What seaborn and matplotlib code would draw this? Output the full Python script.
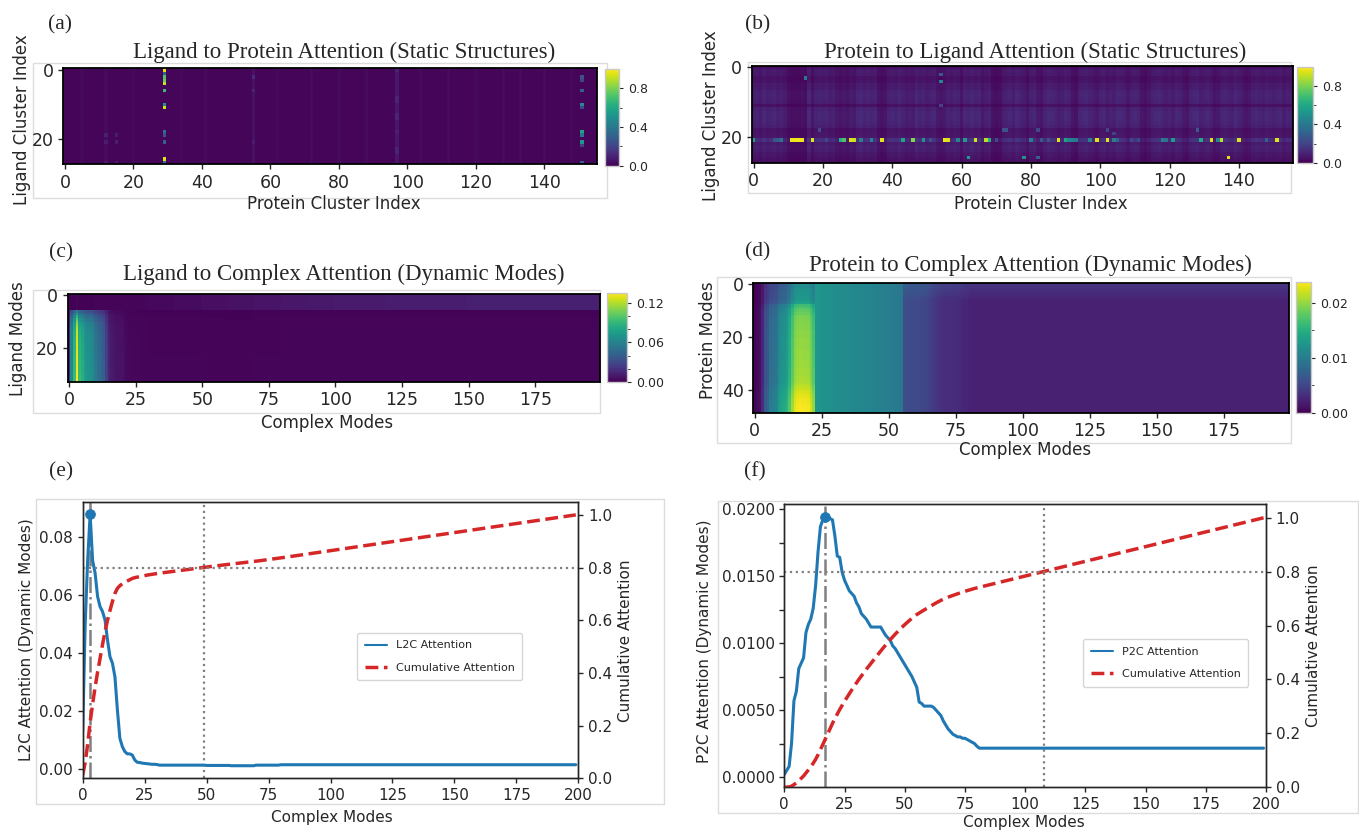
import numpy as np
import matplotlib
matplotlib.use("Agg")
import matplotlib.pyplot as plt
from matplotlib.patches import Rectangle
from matplotlib.ticker import MultipleLocator, FormatStrFormatter
import seaborn as sns

# ---------------------------------------------------------------- data
# mean attention per complex mode (e) and (f)
l2c_attention = [
    0.0130, 0.0500, 0.0720, 0.0880, 0.0720, 0.0677, 0.0596, 0.0561, 0.0544, 0.0515,
    0.0446, 0.0388, 0.0365, 0.0319, 0.0204, 0.0106, 0.0077, 0.0060, 0.0052, 0.0052,
    0.0048, 0.0031, 0.0023, 0.0022, 0.0020, 0.0019, 0.0018, 0.0017, 0.0016, 0.0016,
    0.0015, 0.0013, 0.0013, 0.0013, 0.0013, 0.0013, 0.0013, 0.0013, 0.0013, 0.0013,
    0.0013, 0.0013, 0.0013, 0.0013, 0.0013, 0.0013, 0.0013, 0.0013, 0.0013, 0.0013,
    0.0012, 0.0012, 0.0012, 0.0012, 0.0012, 0.0012, 0.0012, 0.0012, 0.0012, 0.0012,
    0.0011, 0.0011, 0.0011, 0.0011, 0.0011, 0.0011, 0.0011, 0.0011, 0.0011, 0.0011,
    0.0013, 0.0013, 0.0013, 0.0013, 0.0013, 0.0013, 0.0013, 0.0013, 0.0013, 0.0013,
    0.00144, 0.00144, 0.00144, 0.00144, 0.00144, 0.00144, 0.00144, 0.00144, 0.00144, 0.00144,
    0.00144, 0.00144, 0.00144, 0.00144, 0.00144, 0.00144, 0.00144, 0.00144, 0.00144, 0.00144,
    0.00144, 0.00144, 0.00144, 0.00144, 0.00144, 0.00144, 0.00144, 0.00144, 0.00144, 0.00144,
    0.00144, 0.00144, 0.00144, 0.00144, 0.00144, 0.00144, 0.00144, 0.00144, 0.00144, 0.00144,
    0.00144, 0.00144, 0.00144, 0.00144, 0.00144, 0.00144, 0.00144, 0.00144, 0.00144, 0.00144,
    0.00144, 0.00144, 0.00144, 0.00144, 0.00144, 0.00144, 0.00144, 0.00144, 0.00144, 0.00144,
    0.00144, 0.00144, 0.00144, 0.00144, 0.00144, 0.00144, 0.00144, 0.00144, 0.00144, 0.00144,
    0.00144, 0.00144, 0.00144, 0.00144, 0.00144, 0.00144, 0.00144, 0.00144, 0.00144, 0.00144,
    0.00144, 0.00144, 0.00144, 0.00144, 0.00144, 0.00144, 0.00144, 0.00144, 0.00144, 0.00144,
    0.00144, 0.00144, 0.00144, 0.00144, 0.00144, 0.00144, 0.00144, 0.00144, 0.00144, 0.00144,
    0.00144, 0.00144, 0.00144, 0.00144, 0.00144, 0.00144, 0.00144, 0.00144, 0.00144, 0.00144,
    0.00144, 0.00144, 0.00144, 0.00144, 0.00144, 0.00144, 0.00144, 0.00144, 0.00144, 0.00144,
]

p2c_attention = [
    0.0002, 0.0005, 0.0008, 0.0025, 0.0057, 0.0064, 0.0081, 0.0085, 0.0089, 0.0108,
    0.0114, 0.0118, 0.0126, 0.0143, 0.0168, 0.0187, 0.0192, 0.0194, 0.0193, 0.0193,
    0.0192, 0.0180, 0.0165, 0.0164, 0.0153, 0.0147, 0.0143, 0.0139, 0.0137, 0.0135,
    0.0130, 0.0127, 0.0122, 0.0120, 0.0118, 0.0115, 0.0112, 0.0112, 0.0112, 0.0112,
    0.0112, 0.0109, 0.0106, 0.0104, 0.0102, 0.0098, 0.0096, 0.0093, 0.0090, 0.0087,
    0.0084, 0.0081, 0.0078, 0.0075, 0.0071, 0.0067, 0.0056, 0.0055, 0.0053, 0.0053,
    0.0053, 0.0053, 0.0052, 0.0050, 0.0048, 0.0046, 0.0042, 0.0039, 0.0036, 0.0034,
    0.0032, 0.0031, 0.0030, 0.0030, 0.0029, 0.0029, 0.0028, 0.0027, 0.0026, 0.0025,
    0.0023, 0.00216, 0.00216, 0.00216, 0.00216, 0.00216, 0.00216, 0.00216, 0.00216, 0.00216,
    0.00216, 0.00216, 0.00216, 0.00216, 0.00216, 0.00216, 0.00216, 0.00216, 0.00216, 0.00216,
    0.00216, 0.00216, 0.00216, 0.00216, 0.00216, 0.00216, 0.00216, 0.00216, 0.00216, 0.00216,
    0.00216, 0.00216, 0.00216, 0.00216, 0.00216, 0.00216, 0.00216, 0.00216, 0.00216, 0.00216,
    0.00216, 0.00216, 0.00216, 0.00216, 0.00216, 0.00216, 0.00216, 0.00216, 0.00216, 0.00216,
    0.00216, 0.00216, 0.00216, 0.00216, 0.00216, 0.00216, 0.00216, 0.00216, 0.00216, 0.00216,
    0.00216, 0.00216, 0.00216, 0.00216, 0.00216, 0.00216, 0.00216, 0.00216, 0.00216, 0.00216,
    0.00216, 0.00216, 0.00216, 0.00216, 0.00216, 0.00216, 0.00216, 0.00216, 0.00216, 0.00216,
    0.00216, 0.00216, 0.00216, 0.00216, 0.00216, 0.00216, 0.00216, 0.00216, 0.00216, 0.00216,
    0.00216, 0.00216, 0.00216, 0.00216, 0.00216, 0.00216, 0.00216, 0.00216, 0.00216, 0.00216,
    0.00216, 0.00216, 0.00216, 0.00216, 0.00216, 0.00216, 0.00216, 0.00216, 0.00216, 0.00216,
    0.00216, 0.00216, 0.00216, 0.00216, 0.00216, 0.00216, 0.00216, 0.00216, 0.00216, 0.00216,
]

# (a) ligand -> protein attention, 28 ligand x 156 protein clusters
lp_shape = (28, 156)
lp_background = 0.015
lp_faint_cols = [(5, 0.025), (12, 0.03), (20, 0.025), (34, 0.025), (41, 0.028),
                 (55, 0.045), (62, 0.025), (72, 0.028), (80, 0.025), (88, 0.028),
                 (97, 0.06), (104, 0.025), (112, 0.028), (120, 0.025), (128, 0.03),
                 (133, 0.028), (140, 0.03), (148, 0.025)]
lp_hot_cells = [
    (0, 29, 0.95), (1, 29, 0.30), (2, 29, 0.72), (3, 29, 0.76), (4, 29, 0.92),
    (6, 29, 0.68), (10, 29, 0.50), (11, 29, 0.93), (18, 29, 0.35), (19, 29, 0.25),
    (21, 29, 0.30), (26, 29, 0.95), (27, 29, 0.35),
    (2, 151, 0.25), (3, 151, 0.20), (6, 151, 0.30), (10, 151, 0.48), (11, 151, 0.22),
    (18, 151, 0.58), (19, 151, 0.40), (21, 151, 0.52), (22, 151, 0.18), (27, 151, 0.30),
    (19, 12, 0.09), (21, 12, 0.08), (19, 15, 0.08), (21, 15, 0.08), (27, 12, 0.07),
    (27, 15, 0.07), (2, 55, 0.12), (6, 55, 0.10), (21, 55, 0.08), (0, 97, 0.10),
    (8, 97, 0.10), (9, 97, 0.10), (13, 97, 0.10), (14, 97, 0.10), (18, 97, 0.09),
    (23, 97, 0.10), (24, 97, 0.10),
]

# (b) protein -> ligand attention: row/column background levels plus hot cells
pl_row_level = [0.04, 0.07, 0.065, 0.045, 0.05, 0.07, 0.07, 0.09, 0.095, 0.09,
                0.085, 0.04, 0.09, 0.10, 0.10, 0.10, 0.095, 0.085, 0.05, 0.055,
                0.06, 0.13, 0.07, 0.085, 0.08, 0.06, 0.05, 0.04]
pl_col_level = [
    0.9, 1.0, 0.8, 1.1, 0.9, 1.0, 1.1, 0.9, 1.0, 0.8,
    0.5, 0.4, 0.4, 0.4, 0.5, 0.4, 1.2, 0.6, 1.0, 1.1,
    1.0, 1.1, 0.9, 1.0, 0.7, 0.6, 0.7, 0.6, 0.8, 0.7,
    1.1, 1.2, 1.0, 1.1, 1.0, 1.1, 0.6, 0.5, 0.6, 1.0,
    1.1, 1.0, 1.2, 1.0, 0.8, 0.9, 0.8, 1.2, 1.0, 1.1,
    0.9, 1.0, 1.1, 0.7, 0.6, 0.7, 1.0, 0.9, 1.1, 1.0,
    0.6, 1.1, 1.0, 1.2, 1.0, 1.1, 0.7, 0.9, 1.0, 0.5,
    0.4, 0.5, 0.9, 1.0, 1.1, 0.9, 1.2, 1.0, 0.9, 0.6,
    1.0, 1.1, 0.7, 0.6, 1.0, 1.2, 1.1, 1.0, 0.8, 0.9,
    1.1, 1.0, 0.6, 0.5, 1.0, 1.1, 1.2, 1.0, 0.9, 0.7,
    1.0, 1.1, 0.8, 1.0, 0.9, 1.2, 1.1, 1.0, 0.7, 1.0,
    1.1, 1.0, 0.6, 0.5, 0.7, 1.0, 1.1, 1.2, 1.0, 0.9,
    1.0, 0.8, 1.1, 1.0, 0.7, 0.6, 1.0, 1.1, 1.2, 0.9,
    1.0, 1.1, 0.9, 0.6, 0.7, 1.0, 1.1, 1.0, 0.9, 1.2,
    1.0, 0.8, 0.6, 0.7, 1.0, 1.1, 1.0, 0.9, 1.1, 1.0,
    0.9, 1.0, 1.1, 0.8, 1.0, 0.9,
]
pl_hot_cells = [
    (21, 0, 0.55), (21, 6, 0.25), (21, 7, 0.28), (21, 8, 0.38), (21, 11, 0.97),
    (21, 12, 0.98), (21, 13, 0.98), (21, 14, 0.97), (21, 17, 0.95), (21, 21, 0.22),
    (21, 25, 0.62), (21, 26, 0.72), (21, 28, 0.95), (21, 29, 0.92), (21, 31, 0.42),
    (21, 34, 0.45), (21, 37, 0.95), (21, 43, 0.58), (21, 46, 0.82), (21, 49, 0.52),
    (21, 51, 0.25), (21, 55, 0.97), (21, 56, 0.95), (21, 59, 0.45), (21, 61, 0.55),
    (21, 64, 0.93), (21, 67, 0.90), (21, 68, 0.62), (21, 70, 0.22), (21, 80, 0.42),
    (21, 83, 0.28), (21, 85, 0.25), (21, 88, 0.95), (21, 90, 0.58), (21, 91, 0.45),
    (21, 92, 0.42), (21, 93, 0.40), (21, 97, 0.42), (21, 99, 0.95), (21, 102, 0.95),
    (21, 104, 0.42), (21, 105, 0.30), (21, 109, 0.22), (21, 111, 0.22), (21, 118, 0.42),
    (21, 119, 0.38), (21, 121, 0.55), (21, 129, 0.60), (21, 132, 0.95), (21, 134, 0.45),
    (21, 135, 0.90), (21, 140, 0.95), (21, 148, 0.30), (21, 151, 0.95),
    (3, 15, 0.40), (2, 54, 0.28), (4, 54, 0.45), (11, 54, 0.20), (18, 19, 0.22),
    (18, 72, 0.25), (18, 73, 0.25), (18, 82, 0.22), (18, 102, 0.22), (18, 128, 0.28),
    (19, 104, 0.20), (26, 62, 0.55), (26, 78, 0.50), (26, 82, 0.30), (26, 137, 0.95),
]

# (c) ligand -> complex modes: row weights applied to the L2C profile
lc_row_weight = [0, 0, 0, 0, 0, 0,
                 0.60, 0.72, 0.85, 0.95, 1.02, 1.08, 1.12, 1.15, 1.17, 1.18,
                 1.19, 1.20, 1.20, 1.21, 1.21, 1.22, 1.22, 1.23, 1.23, 1.24,
                 1.24, 1.25, 1.25, 1.26, 1.26, 1.27, 1.28]
lc_peak_stripe = [0.002, 0.002, 0.002, 0.002, 0.002, 0.002,
                  0.060, 0.075, 0.090, 0.100, 0.108, 0.115, 0.120, 0.123, 0.125, 0.126,
                  0.127, 0.128, 0.128, 0.129, 0.129, 0.130, 0.130, 0.130, 0.131, 0.131,
                  0.132, 0.132, 0.133, 0.133, 0.134, 0.134, 0.135]
lc_top_band = [0.001, 0.0015, 0.002, 0.003, 0.004, 0.005, 0.006, 0.007, 0.008, 0.009,
               0.010, 0.010, 0.011, 0.011, 0.011, 0.012, 0.012, 0.012, 0.012, 0.012]

# (d) protein -> complex modes: row gains on the early (peak) modes of the P2C profile,
# a flatter teal plateau for modes 23-55 and a lighter top band on the tail
pc_row_gain = [0.60, 0.60, 0.62, 0.63, 0.64, 0.65, 0.66, 0.70,
               0.85, 0.90, 0.93, 0.95,
               0.98, 0.99, 1.00, 1.00, 1.01, 1.01, 1.02, 1.02, 1.02, 1.03,
               1.03, 1.03, 1.03, 1.04, 1.04, 1.04, 1.04, 1.05, 1.05, 1.05,
               1.06, 1.06, 1.06, 1.07, 1.07, 1.08, 1.10,
               1.12, 1.14, 1.16, 1.18, 1.19, 1.20, 1.21, 1.22, 1.22, 1.22]
pc_plateau = [0.0126, 0.0124, 0.0122, 0.0121, 0.0120, 0.0119, 0.0118, 0.0117, 0.0116,
              0.0115, 0.0114, 0.0113, 0.0113, 0.0112, 0.0111, 0.0111, 0.0110, 0.0109,
              0.0108, 0.0108, 0.0107, 0.0106, 0.0105, 0.0104, 0.0103, 0.0102, 0.0101,
              0.0100, 0.0099, 0.0098, 0.0097, 0.0096, 0.0094]
pc_top_tail = [0.0012, 0.0012, 0.0010, 0.0008, 0.0006, 0.0003]

# ---------------------------------------------------------------- matrices
modes = np.arange(len(l2c_attention))
l2c = np.array(l2c_attention)
p2c = np.array(p2c_attention)

lp = np.full(lp_shape, lp_background)
for c, v in lp_faint_cols:
    lp[:, c] = v
for r, c, v in lp_hot_cells:
    lp[r, c] = v

pl = np.outer(pl_row_level, pl_col_level)
for r, c, v in pl_hot_cells:
    pl[r, c] = v

lc_w = np.array(lc_row_weight)
lc = np.outer(lc_w, l2c)
lc[lc_w == 0] = np.repeat(lc_top_band, 10)
lc[:, l2c.argmax()] = lc_peak_stripe

pc = np.tile(p2c, (len(pc_row_gain), 1))
pc[:, :23] *= np.array(pc_row_gain)[:, None]
pc[:, 23:23 + len(pc_plateau)] = pc_plateau
pc[:len(pc_top_tail), 56:] += np.array(pc_top_tail)[:, None]

# ---------------------------------------------------------------- figure
sns.set_theme(style="ticks", rc={
    "xtick.major.size": 3.5, "ytick.major.size": 3.5,
    "xtick.minor.size": 2, "ytick.minor.size": 2,
    "axes.linewidth": 1.0, "xtick.major.width": 1.0, "ytick.major.width": 1.0,
})
plt.rcParams["font.family"] = ["DejaVu Sans"]

W, H = 1359, 832
fig = plt.figure(figsize=(W / 100, H / 100), dpi=100)
BLUE, RED = "#1f77b4", "#d62728"
SERIF = "Liberation Serif"


def box(l, t, r, b):
    return [l / W, 1 - b / H, (r - l) / W, (b - t) / H]


def at(x, y):
    return x / W, 1 - y / H


def place_labels(ax, xlab, ylab, xpos, ypos, size):
    ax.set_xlabel(xlab, fontsize=size)
    ax.set_ylabel(ylab, fontsize=size)
    ax.xaxis.set_label_coords(*at(*xpos), transform=fig.transFigure)
    ax.yaxis.set_label_coords(*at(*ypos), transform=fig.transFigure)
    ax.xaxis.label.set_va("center")
    ax.yaxis.label.set_va("center")


def heatmap_panel(data, ax_box, cb_box, vmax, xstep, cticks, cminor, cfmt):
    ax = fig.add_axes(box(*ax_box))
    cax = fig.add_axes(box(*cb_box))
    sns.heatmap(data, ax=ax, cbar_ax=cax, cmap="viridis", vmin=0, vmax=vmax,
                xticklabels=False, yticklabels=False, rasterized=True)
    nr, nc = data.shape
    xt = np.arange(0, nc, xstep)
    yt = np.arange(0, nr, 20)
    ax.set_xticks(xt + 0.5, labels=[str(v) for v in xt])
    ax.set_yticks(yt + 0.5, labels=[str(v) for v in yt], rotation=0)
    ax.tick_params(labelsize=12.5, length=3.5, width=1, left=True, bottom=True)
    for s in ax.spines.values():
        s.set_visible(True)
        s.set_color("black")
        s.set_linewidth(1.3)
    cb = ax.collections[0].colorbar
    cb.set_ticks(cticks)
    cb.set_ticks(np.arange(0, vmax, cminor), minor=True)
    cb.ax.yaxis.set_major_formatter(FormatStrFormatter(cfmt))
    cb.ax.tick_params(which="major", labelsize=9, length=3, width=0.8)
    cb.ax.tick_params(which="minor", length=2, width=0.6)
    cb.outline.set_edgecolor("#c8c8c8")
    cb.outline.set_linewidth(1)
    return ax


def curve_panel(values, ax_box, name, major, minor, fmt, legend_x, lab_pos):
    cumulative = np.cumsum(values) / values.sum()
    peak = int(values.argmax())
    cut = int(np.argmax(cumulative >= 0.8))

    ax = fig.add_axes(box(*ax_box))
    ax.axvline(peak, color="gray", ls="-.", lw=1.8)
    ax.axvline(cut, color="gray", ls=":", lw=1.6)
    sns.lineplot(x=modes, y=values, ax=ax, color=BLUE, lw=2.2)
    attn_line = ax.lines[-1]
    sns.scatterplot(x=[peak], y=[values[peak]], ax=ax, color=BLUE, s=50,
                    edgecolor=BLUE, zorder=5)
    ax.set_xlim(0, 200)
    ax.xaxis.set_major_locator(MultipleLocator(25))
    ax.yaxis.set_major_locator(MultipleLocator(major))
    ax.yaxis.set_major_formatter(FormatStrFormatter(fmt))
    if minor:
        ax.yaxis.set_minor_locator(MultipleLocator(minor))
        ax.tick_params(axis="y", which="minor", length=3.5, width=1)
    ax.tick_params(labelsize=11)

    ax2 = ax.twinx()
    sns.lineplot(x=modes, y=cumulative, ax=ax2, color=RED, lw=2.5, linestyle="--")
    cum_line = ax2.lines[-1]
    ax2.axhline(0.8, color="gray", ls=":", lw=1.6)
    ax2.set_ylim(0, 1.05)
    ax2.yaxis.set_major_locator(MultipleLocator(0.2))
    ax2.tick_params(labelsize=11)

    place_labels(ax, "Complex Modes", f"{name} Attention (Dynamic Modes)",
                 lab_pos[0], lab_pos[1], 11)
    ax2.set_ylabel("Cumulative Attention", fontsize=11)
    ax2.yaxis.set_label_coords(*at(*lab_pos[2]), transform=fig.transFigure)
    ax2.yaxis.label.set_va("center")

    leg = ax2.legend([attn_line, cum_line], [f"{name} Attention", "Cumulative Attention"],
                     loc="center left", bbox_to_anchor=(legend_x, 0.44), borderaxespad=0,
                     fontsize=8, labelspacing=1.1, borderpad=0.7, handlelength=2.0)
    leg.get_lines()[0].set_linewidth(1.5)
    return ax


# light frames around each panel image
for l, t, r, b in [(32.8, 63.3, 607, 198.3), (747.7, 61.7, 1291.4, 192.7),
                   (32.8, 290, 600.4, 412.7), (717.1, 276.7, 1291.4, 442.7),
                   (36, 499.3, 664, 804), (717.7, 500.7, 1358, 812.7)]:
    fig.add_artist(Rectangle(at(l, b), (r - l) / W, (b - t) / H, transform=fig.transFigure,
                             fill=False, edgecolor="#dcdcdc", lw=1, zorder=-1))

ax_a = heatmap_panel(lp, (63.3, 68.3, 597.4, 164.3), (604.8, 69, 619.2, 165.7),
                     1.0, 20, [0.0, 0.4, 0.8], 0.2, "%.1f")
place_labels(ax_a, "Protein Cluster Index", "Ligand Cluster Index",
             (333.4, 204), (21.8, 119.2), 12)

ax_b = heatmap_panel(pl, (752, 65.7, 1292.7, 162.7), (1296.6, 66.7, 1313.2, 162.7),
                     1.0, 20, [0.0, 0.4, 0.8], 0.2, "%.1f")
place_labels(ax_b, "Protein Cluster Index", "Ligand Cluster Index",
             (1040.9, 204), (711.4, 115.8), 12)

ax_c = heatmap_panel(lc, (67.7, 294, 600.4, 381.7), (607, 292.7, 626.6, 381.7),
                     0.136, 25, [0.0, 0.06, 0.12], 0.02, "%.2f")
place_labels(ax_c, "Complex Modes", "Ligand Modes", (327.5, 423.3), (18.3, 338.3), 12)

ax_d = heatmap_panel(pc, (753.4, 282.7, 1289.2, 412.7), (1295.7, 281.7, 1311, 412.7),
                     0.0238, 25, [0.0, 0.01, 0.02], 0.005, "%.2f")
place_labels(ax_d, "Complex Modes", "Protein Modes", (1025, 450), (708, 340), 12)

curve_panel(l2c, (82.7, 501.7, 578.3, 778.3), "L2C", 0.02, None, "%.2f", 0.553,
            [(331.7, 817.5), (26, 639.2), (625, 640.8)])
curve_panel(p2c, (784.3, 504.3, 1266, 787.3), "P2C", 0.005, 0.0025, "%.4f", 0.62,
            [(1024.3, 822.5), (704.2, 641.7), (1314, 645.8)])

titles = [("Ligand to Protein Attention (Static Structures)", 343.9, 52.5),
          ("Protein to Ligand Attention (Static Structures)", 1034.8, 52),
          ("Ligand to Complex Attention (Dynamic Modes)", 343.9, 274.2),
          ("Protein to Complex Attention (Dynamic Modes)", 1030.4, 265.8)]
for text, x, y in titles:
    fig.text(*at(x, y), text, family=SERIF, fontsize=16.5, ha="center", va="center")

for text, x, y in [("(a)", 59.8, 25), ("(b)", 757.7, 25), ("(c)", 61.1, 253.3),
                   ("(d)", 757.7, 251.7), ("(e)", 61.3, 471.7), ("(f)", 754.7, 471.7)]:
    fig.text(*at(x, y), text, family=SERIF, fontsize=15.5, ha="center", va="center")

fig.savefig("out.png", dpi=100)
